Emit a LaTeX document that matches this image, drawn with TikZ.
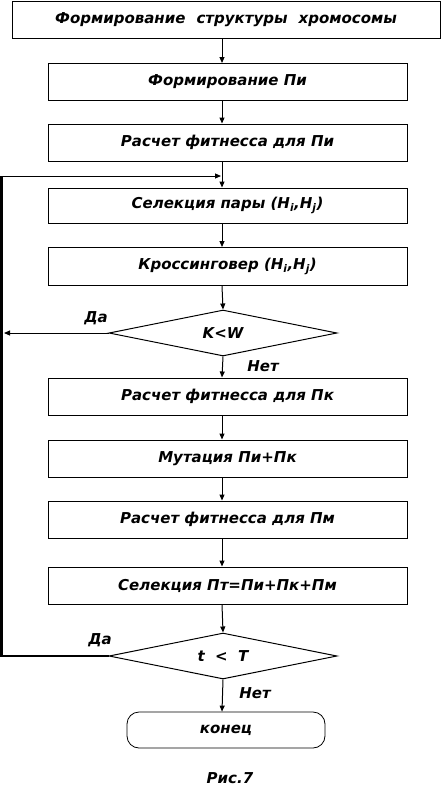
\documentclass[tikz,border=0pt]{standalone}
\usepackage{fontspec}
\setmainfont{DejaVu Sans}
\usetikzlibrary{shapes.geometric,arrows.meta}
\tikzset{
  txt/.style={font=\fontsize{15}{17}\selectfont\bfseries\itshape},
  blk/.style={draw, line width=1pt, rectangle, minimum height=37pt, inner sep=0pt, txt},
  dec/.style={draw, line width=1pt, diamond, aspect=4.96, minimum width=228pt, minimum height=46pt, inner sep=0pt, txt},
  term/.style={draw, line width=0.8pt, rectangle, rounded corners=12pt, minimum width=198pt, minimum height=36pt, inner sep=0pt, txt},
  arr/.style={line width=1pt, -{Triangle[length=6pt,width=5pt]}},
  thick loop/.style={line width=2.6pt},
  lbl/.style={txt}
}
\begin{document}
\begin{tikzpicture}[x=1pt,y=-1pt]
\useasboundingbox (0,0) rectangle (443,787);
\node[blk, minimum width=428pt] (b1) at (226,20) {Формирование\hspace{11pt}структуры\hspace{11pt}хромосомы};
\node[blk, minimum width=359pt] (b2) at (227.5,82) {Формирование Пи};
\node[blk, minimum width=359pt] (b3) at (227.5,142.5) {Расчет фитнесса для Пи};
\node[blk, minimum width=359pt, minimum height=35pt] (b4) at (227.5,205.5) {Селекция пары (H\textsubscript{i},H\textsubscript{j})};
\node[blk, minimum width=359pt, minimum height=38pt] (b5) at (227.5,266.5) {Кроссинговер (H\textsubscript{i},H\textsubscript{j})};
\node[dec] (d1) at (223,333) {K<W};
\node[blk, minimum width=359pt] (b6) at (227.5,396.5) {Расчет фитнесса для Пк};
\node[blk, minimum width=359pt] (b7) at (227.5,458.5) {Мутация Пи+Пк};
\node[blk, minimum width=359pt] (b8) at (227.5,519.5) {Расчет фитнесса для Пм};
\node[blk, minimum width=359pt] (b9) at (227.5,585.5) {Селекция Пт=Пи+Пк+Пм};
\node[dec] (d2) at (223,656) {t\ \ <\ \ T};
\node[term] (e) at (226,730) {конец};
\node[lbl] (cap) at (230,778) {Рис.7};
\coordinate (ax) at (222,0);
% main flow
\draw[arr] (b1.south -| ax) -- (b2.north -| ax);
\draw[arr] (b2.south -| ax) -- (b3.north -| ax);
\draw[arr] (b3.south -| ax) -- (b4.north -| ax);
\draw[arr] (b4.south -| ax) -- (b5.north -| ax);
\draw[arr] (b5.south -| ax) -- (d1.north);
\draw[arr] (d1.south) -- (b6.north -| ax);
\draw[arr] (b6.south -| ax) -- (b7.north -| ax);
\draw[arr] (b7.south -| ax) -- (b8.north -| ax);
\draw[arr] (b8.south -| ax) -- (b9.north -| ax);
\draw[arr] (b9.south -| ax) -- (d2.north);
\draw[arr] (d2.south) -- (e.north -| ax);
% loops
\coordinate (ya) at (4,333);
\draw[arr] (d1.west) -- (ya);
\coordinate (lb) at (1.5,656);
\coordinate (lt) at (1.5,176);
\coordinate (li) at (221,176);
\draw[thick loop] (d2.west) -- (lb) -- (lt);
\draw[arr] (lt) -- (li);
% labels
\node[lbl] (y1) at (96,318) {Да};
\node[lbl] (n1) at (263,366) {Нет};
\node[lbl] (y2) at (100,640) {Да};
\node[lbl] (n2) at (255,693) {Нет};
\end{tikzpicture}
\end{document}
